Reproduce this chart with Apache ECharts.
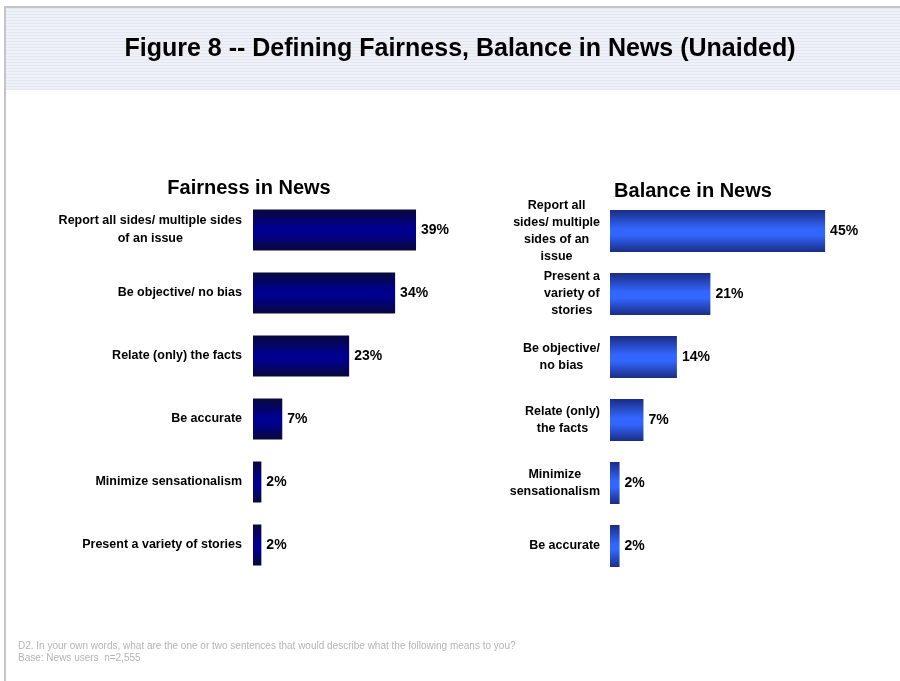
<!DOCTYPE html>
<html>
<head>
<meta charset="utf-8">
<script src="https://cdn.jsdelivr.net/npm/echarts@6/dist/echarts.min.js"></script>
<style>
  html, body { margin: 0; padding: 0; background: #ffffff; }
  #chart { width: 900px; height: 681px; }
</style>
</head>
<body>
<div id="chart"></div>
<script>
// Survey answers: what "fairness" and "balance" in news mean to users
const fairnessCategories = [
  'Report all sides/ multiple sides\nof an issue',
  'Be objective/ no bias',
  'Relate (only) the facts',
  'Be accurate',
  'Minimize sensationalism',
  'Present a variety of stories'
];
const fairnessValues = [39, 34, 23, 7, 2, 2];

const balanceCategories = [
  'Report all\nsides/ multiple\nsides of an\nissue',
  'Present a\nvariety of\nstories',
  'Be objective/\nno bias',
  'Relate (only)\nthe facts',
  'Minimize\nsensationalism',
  'Be accurate'
];
const balanceValues = [45, 21, 14, 7, 2, 2];

const FONT = '"Liberation Sans", Arial, Helvetica, sans-serif';

// horizontal pin-stripe pattern for the header band
function stripePattern() {
  const c = document.createElement('canvas');
  c.width = 4; c.height = 3;
  const g = c.getContext('2d');
  g.fillStyle = '#eef1f7';
  g.fillRect(0, 0, 4, 3);
  g.fillStyle = '#e3e7ef';
  g.fillRect(0, 2, 4, 1);
  return c;
}

function barGradient(edge, mid) {
  return new echarts.graphic.LinearGradient(0, 0, 0, 1, [
    { offset: 0, color: edge },
    { offset: 0.45, color: mid },
    { offset: 0.6, color: mid },
    { offset: 1, color: edge }
  ]);
}

// each wrapped line is centred inside the label block
function centredLines(text) {
  return text.split('\n').map(l => '{c|' + l + '}').join('\n');
}

function labelRich(lineHeight) {
  return {
    c: { align: 'center', fontFamily: FONT, fontWeight: 'bold', fontSize: 12.5, color: '#000', lineHeight: lineHeight }
  };
}

const valueLabel = {
  show: true, position: 'right', distance: 5, formatter: '{c}%',
  fontFamily: FONT, fontWeight: 'bold', fontSize: 14, color: '#000'
};

const chart = echarts.init(document.getElementById('chart'), null, { renderer: 'canvas' });

chart.setOption({
  animation: false,
  backgroundColor: '#ffffff',
  title: [
    {
      text: 'Figure 8 -- Defining Fairness, Balance in News (Unaided)',
      left: 455, top: 32, textAlign: 'center',
      textStyle: { fontFamily: FONT, fontWeight: 'bold', fontSize: 25, color: '#000' }
    },
    {
      text: 'Fairness in News',
      left: 244, top: 173, textAlign: 'center',
      textStyle: { fontFamily: FONT, fontWeight: 'bold', fontSize: 20, color: '#000' }
    },
    {
      text: 'Balance in News',
      left: 688, top: 176, textAlign: 'center',
      textStyle: { fontFamily: FONT, fontWeight: 'bold', fontSize: 20, color: '#000' }
    }
  ],
  graphic: [
    { type: 'rect', z: -10, shape: { x: 5, y: 8, width: 895, height: 82 },
      style: { fill: { image: stripePattern(), repeat: 'repeat' } } },
    { type: 'rect', z: -9, shape: { x: 5, y: 6, width: 895, height: 2 }, style: { fill: '#c4c4c4' } },
    { type: 'rect', z: -9, shape: { x: 4, y: 6, width: 2, height: 675 }, style: { fill: '#c4c4c4' } },
    { type: 'text', left: 18, top: 640,
      style: { text: 'D2. In your own words, what are the one or two sentences that would describe what the following means to you?\nBase: News users  n=2,555',
        fontFamily: FONT, fontSize: 10, lineHeight: 12, fill: '#b4b4b4' } }
  ],
  grid: [
    { left: 253, top: 198.5, width: 167.2, height: 378 },
    { left: 610, top: 199.5, width: 239, height: 378 }
  ],
  xAxis: [
    { gridIndex: 0, type: 'value', min: 0, max: 40, show: false },
    { gridIndex: 1, type: 'value', min: 0, max: 50, show: false }
  ],
  yAxis: [
    { gridIndex: 0, type: 'category', data: fairnessCategories, inverse: true,
      axisLine: { show: false }, axisTick: { show: false },
      axisLabel: { margin: 11, formatter: centredLines, rich: labelRich(18), interval: 0 } },
    { gridIndex: 1, type: 'category', data: balanceCategories, inverse: true,
      axisLine: { show: false }, axisTick: { show: false },
      axisLabel: { margin: 10, formatter: centredLines, rich: labelRich(17), interval: 0 } }
  ],
  series: [
    {
      type: 'bar', xAxisIndex: 0, yAxisIndex: 0, data: fairnessValues, barWidth: 41,
      itemStyle: { color: barGradient('#08083a', '#000090') },
      label: valueLabel
    },
    {
      type: 'bar', xAxisIndex: 1, yAxisIndex: 1, data: balanceValues, barWidth: 42,
      itemStyle: { color: barGradient('#1a2d84', '#3366ff') },
      label: valueLabel
    }
  ]
});
</script>
</body>
</html>
